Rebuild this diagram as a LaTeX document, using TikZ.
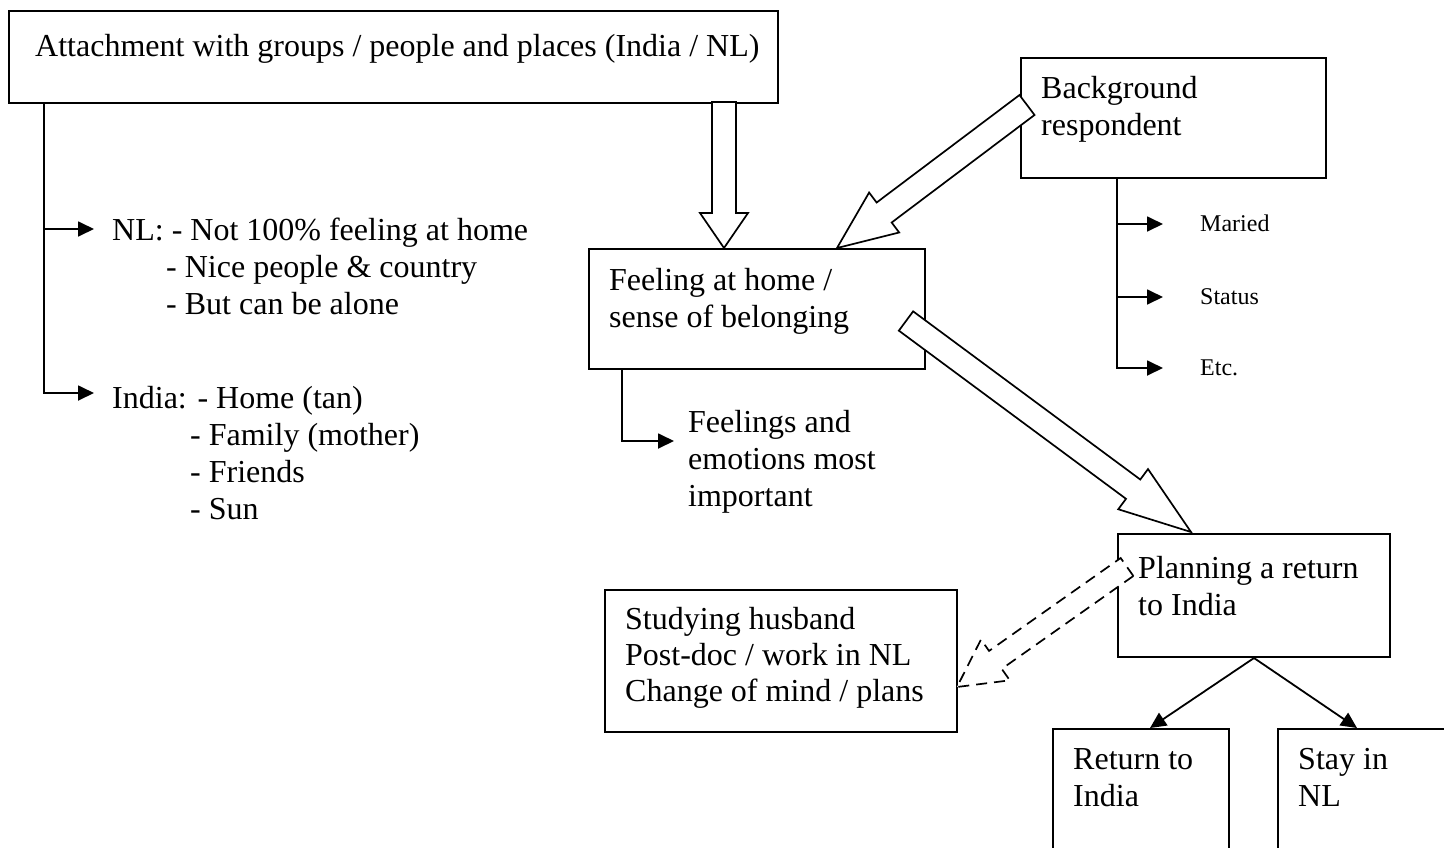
\documentclass[tikz,border=0pt]{standalone}
\usepackage{fontspec}
\setmainfont{Liberation Serif}
\usetikzlibrary{calc,arrows.meta}
\newcommand\hollowarrow[6][]{%
  \coordinate (hb) at ($(#3)!#6!(#2)$);
  \draw[hollow,#1] ($(#2)!#4!90:(#3)$) -- ($(hb)!#4!90:(#3)$) -- ($(hb)!#5!90:(#3)$) -- (#3)
    -- ($(hb)!#5!-90:(#3)$) -- ($(hb)!#4!-90:(#3)$) -- ($(#2)!#4!-90:(#3)$) -- cycle;
}
\begin{document}
\begin{tikzpicture}[x=1pt,y=-1pt,
  box/.style={draw, line width=2pt, inner sep=0pt, anchor=north west},
  txt/.style={font=\fontsize{32}{37}\selectfont, align=left, inner sep=0pt, anchor=base west},
  small/.style={font=\fontsize{24}{28}\selectfont, inner sep=0pt, anchor=base west},
  conn/.style={line width=1.8pt, -{Triangle[length=16pt,width=15pt]}},
  hollow/.style={draw, fill=white, line width=1.7pt, line join=miter},
]
\useasboundingbox (0,0) rectangle (1444,847);
\clip (0,0) rectangle (1444,847);
% boxes
\node[box, minimum width=769pt, minimum height=92pt] (attach) at (8,10) {};
\node[box, minimum width=305pt, minimum height=120pt] (bg) at (1020,57) {};
\node[box, minimum width=336pt, minimum height=120pt] (feel) at (588,248) {};
\node[box, minimum width=272pt, minimum height=123pt] (plan) at (1117,533) {};
\node[box, minimum width=352pt, minimum height=142pt] (study) at (604,589) {};
\node[box, minimum width=176pt, minimum height=160pt] (ret) at (1052,728) {};
\node[box, minimum width=200pt, minimum height=160pt] (stay) at (1277,728) {};
% hollow arrows
\coordinate (h1s) at (724,102); \coordinate (h1t) at (724,248);
\hollowarrow{h1s}{h1t}{12pt}{24pt}{35pt}
\coordinate (h2s) at (1027,105); \coordinate (h2t) at (837,248);
\hollowarrow{h2s}{h2t}{12.5pt}{25pt}{59pt}
\coordinate (h3s) at (906,321); \coordinate (h3t) at (1191,532);
\hollowarrow{h3s}{h3t}{12pt}{25pt}{72pt}
\coordinate (h4s) at (1127,567); \coordinate (h4t) at (957,687);
\hollowarrow[dash pattern=on 11pt off 7pt]{h4s}{h4t}{11pt}{25pt}{47pt}
% texts (base = baseline of last line)
\node[txt] (attacht) at (35,56) {Attachment with groups / people and places (India / NL)};
\node[txt] (bgt) at (1041,135) {Background\\respondent};
\node[txt] (feelt) at (609,327) {Feeling at home /\\sense of belonging};
\node[txt] (plant) at (1138,615) {Planning a return\\to India};
\node[txt, font=\fontsize{32}{36}\selectfont] (studyt) at (625,701) {Studying husband\\Post-doc / work in NL\\Change of mind / plans};
\node[txt] (rett) at (1073,806) {Return to\\India};
\node[txt] (stayt) at (1298,806) {Stay in\\NL};
\node[txt] (nlt) at (112,314) {NL: - Not 100\% feeling at home\\\hspace{54pt}- Nice people \& country\\\hspace{54pt}- But can be alone};
\node[txt] (indt) at (112,519) {India: - Home (tan)\\\hspace{78pt}- Family (mother)\\\hspace{78pt}- Friends\\\hspace{78pt}- Sun};
\node[txt] (emot) at (688,506) {Feelings and\\emotions most\\important};
\node[small] (mar) at (1200,231) {Maried};
\node[small] (sta) at (1200,304) {Status};
\node[small] (etc) at (1200,375) {Etc.};
% tree connectors
\coordinate (lt0) at ($(attach.south west)+(36,0)$);
\coordinate (nla) at (94,229);
\coordinate (inda) at (94,393);
\draw[conn] (lt0) |- (nla);
\draw[conn] (lt0) |- (inda);
\coordinate (bg0) at ($(bg.south west)+(97,0)$);
\coordinate (mara) at (1163,224);
\coordinate (staa) at (1163,297);
\coordinate (etca) at (1163,368);
\draw[conn] (bg0) |- (mara);
\draw[conn] (bg0) |- (staa);
\draw[conn] (bg0) |- (etca);
\coordinate (fe0) at ($(feel.south west)+(34,0)$);
\coordinate (emoa) at (674,441);
\draw[conn] (fe0) |- (emoa);
\coordinate (reta) at ($(ret.north west)+(98,0)$);
\coordinate (staya) at ($(stay.north west)+(80,0)$);
\draw[conn] (plan.south) -- (reta);
\draw[conn] (plan.south) -- (staya);
\end{tikzpicture}
\end{document}
